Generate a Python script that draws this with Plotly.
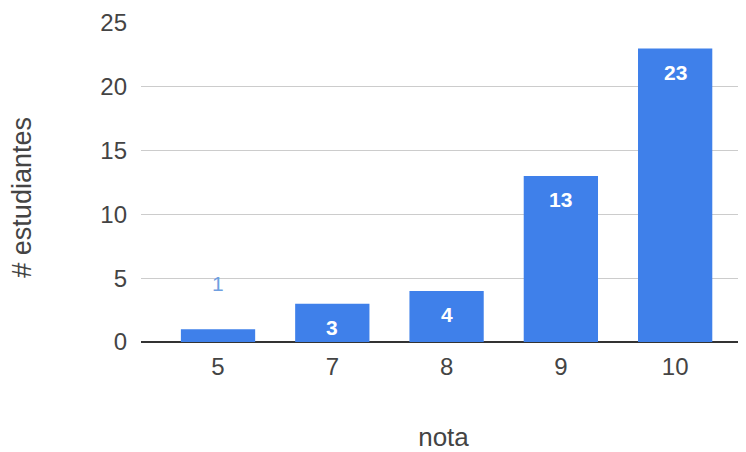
import plotly.graph_objects as go

categories = ["5", "7", "8", "9", "10"]
values = [1, 3, 4, 13, 23]
y_ticks = [0, 5, 10, 15, 20, 25]

BAR = "#3f80ea"
FONT = "Arial, Liberation Sans, sans-serif"
TXT = "#444444"

fig = go.Figure(go.Bar(
    x=categories, y=values, marker_color=BAR, width=0.65,
    marker_line_width=0, hoverinfo="skip",
))

annotations = []
for i, (c, v) in enumerate(zip(categories, values)):
    if v < 2:
        annotations.append(dict(x=i, y=v, xref="x", yref="y", text=str(v),
                                showarrow=False, yanchor="bottom", yshift=32,
                                font=dict(family=FONT, size=21, color="#6f9fe0")))
    else:
        annotations.append(dict(x=i, y=v, xref="x", yref="y", text="<b>%d</b>" % v,
                                showarrow=False, yanchor="top", yshift=-10,
                                font=dict(family=FONT, size=21, color="white")))

# y-axis title
annotations.append(dict(x=-0.197, y=0.455, xref="paper", yref="paper",
                        text="# estudiantes", textangle=-90, showarrow=False,
                        xanchor="center", yanchor="middle",
                        font=dict(family=FONT, size=27, color=TXT)))

fig.update_layout(
    width=738, height=444,
    margin=dict(l=133, r=0, t=15, b=110),
    paper_bgcolor="white", plot_bgcolor="white",
    showlegend=False,
    annotations=annotations,
    font=dict(family=FONT, size=24, color=TXT),
    xaxis=dict(
        type="category", range=[-0.674, 4.62],
        showgrid=False, showline=False, ticks="", ticklabelstandoff=8,
        tickfont=dict(size=24, color=TXT),
        title=dict(text="nota", font=dict(size=26, color=TXT), standoff=48),
    ),
    yaxis=dict(
        range=[0, 25], tickvals=y_ticks, ticktext=[str(t) for t in y_ticks],
        showgrid=True, gridcolor="#cccccc", gridwidth=1,
        zeroline=True, zerolinecolor="#333333", zerolinewidth=1.5,
        showline=False, ticks="", ticklabelstandoff=13,
        tickfont=dict(size=24, color=TXT),
    ),
)

fig.write_html("out.html")
